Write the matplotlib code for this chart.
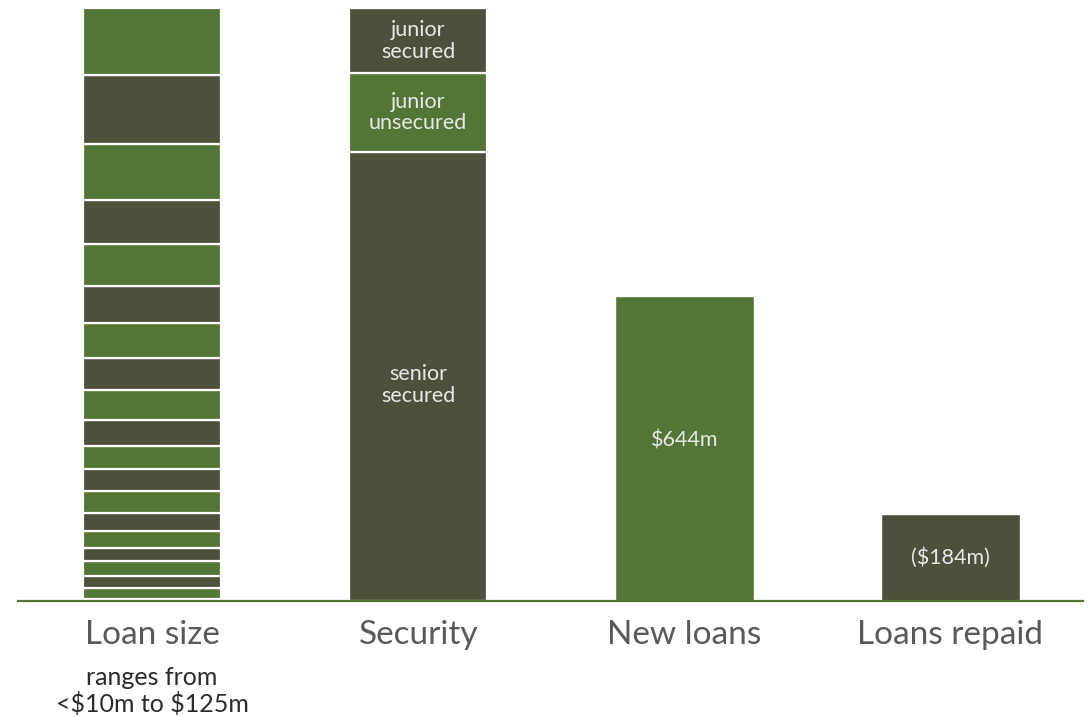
import matplotlib
matplotlib.use("Agg")
import matplotlib.pyplot as plt

# Portfolio composition data ($m)
categories = ["Loan size", "Security", "New loans", "Loans repaid"]
loan_sizes = [4, 20, 22, 26, 25, 31, 32, 41, 40, 41, 48, 54, 59, 64, 67, 77, 79, 103, 125, 122]
security_labels = ["senior\nsecured", "junior\nunsecured", "junior\nsecured"]
security_values = [949, 165, 138]
new_loans = 644
loans_repaid = 184
value_labels = ["$644m", "($184m)"]
loan_size_note = "ranges from\n<$10m to $125m"

GREEN = "#537535"
DARK = "#4F503C"
TEXT_IN = "#E8E8E8"
TEXT_OUT = "#595959"
FONT = ["Lato", "DejaVu Sans"]

plt.rcParams["font.family"] = FONT
plt.rcParams["text.parse_math"] = False

fig = plt.figure(figsize=(10.89, 7.17), dpi=100)
ax = fig.add_axes([18 / 1089, (717 - 601) / 717, (1083 - 18) / 1089, 601 / 717])

width = 0.52
portfolio_total = sum(security_values)

# Loan size: stacked segments, each proportional to its share of the portfolio
scale = portfolio_total / sum(loan_sizes)
n = len(loan_sizes)
bottom = 0.0
for i, v in enumerate(loan_sizes):
    h = v * scale
    from_top = n - 1 - i
    color = GREEN if (from_top % 2 == 0 or i == 0) else DARK
    ax.bar(0, h, width, bottom=bottom, color=color,
           edgecolor="white", linewidth=1.6)
    bottom += h

# Security: stacked by seniority
bottom = 0.0
sec_colors = [DARK, GREEN, DARK]
for lab, v, c in zip(security_labels, security_values, sec_colors):
    ax.bar(1, v, width, bottom=bottom, color=c, edgecolor="white", linewidth=1.6)
    ypos = bottom + v / 2
    if lab.startswith("senior"):
        ypos = bottom + v * 0.48
    ax.text(1, ypos, lab, ha="center", va="center", color=TEXT_IN,
            fontsize=15.5, linespacing=1.1)
    bottom += v

# New loans and loans repaid
ax.bar(2, new_loans, width, color=GREEN, edgecolor="white", linewidth=1.0)
ax.text(2, new_loans * 0.525, value_labels[0], ha="center", va="center",
        color=TEXT_IN, fontsize=15.5)
ax.bar(3, loans_repaid, width, color=DARK, edgecolor="white", linewidth=1.0)
ax.text(3, loans_repaid / 2, value_labels[1], ha="center", va="center",
        color=TEXT_IN, fontsize=15.5)

ax.set_xlim(-0.504, 3.498)
ax.set_ylim(0, 601 * new_loans / 305)

for s in ["top", "right", "left"]:
    ax.spines[s].set_visible(False)
ax.spines["bottom"].set_color(GREEN)
ax.spines["bottom"].set_linewidth(1.6)
ax.set_yticks([])
ax.set_xticks(range(len(categories)))
ax.set_xticklabels(categories, fontsize=24, color=TEXT_OUT)
ax.tick_params(axis="x", length=0, pad=14)

ax.text(0, -0.108, loan_size_note, transform=ax.get_xaxis_transform(),
        ha="center", va="top", fontsize=18, color="#2b2b2b", linespacing=1.15)

fig.savefig("out.png", dpi=100)
